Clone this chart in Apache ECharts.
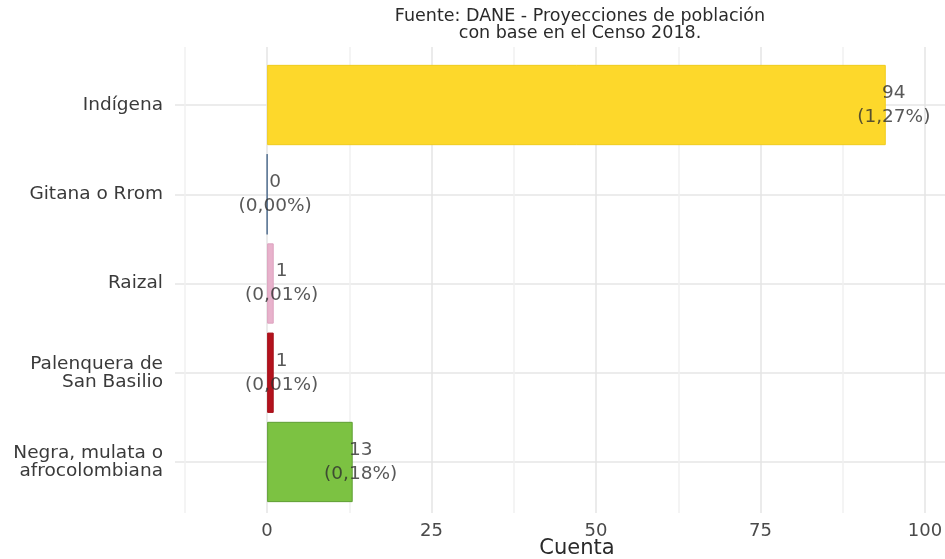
<!DOCTYPE html>
<html>
<head>
<meta charset="utf-8">
<script src="https://cdn.jsdelivr.net/npm/echarts@6/dist/echarts.min.js"></script>
<style>html,body{margin:0;padding:0;background:#fff}#c{width:945px;height:559px}</style>
</head>
<body>
<div id="c"></div>
<script>
const categories = ['Indígena', 'Gitana o Rrom', 'Raizal', 'Palenquera de\nSan Basilio', 'Negra, mulata o\nafrocolombiana'];
const values = [94, 0, 1, 1, 13];
const percents = ['1,27%', '0,00%', '0,01%', '0,01%', '0,18%'];
const barColors = ['#FDD82B', '#4F6D8F', '#E8B2CC', '#B3121D', '#7CC242'];
const barBorders = ['#F0CC1C', '#4F6D8F', '#DCA2BE', '#A50F18', '#5E9E33'];
const xTicks = [0, 25, 50, 75, 100];
const titleText = 'Fuente: DANE - Proyecciones de población\ncon base en el Censo 2018.';
const xTitle = 'Cuenta';

const FONT = 'DejaVu Sans';
const chart = echarts.init(document.getElementById('c'), null, {renderer: 'canvas'});

const option = {
  backgroundColor: '#ffffff',
  animation: false,
  graphic: [{
    type: 'text', x: 580, y: 8,
    style: {text: titleText, font: '17.5px "DejaVu Sans"', fill: '#2a2a2a', textAlign: 'center', textVerticalAlign: 'top', lineHeight: 17}
  }, {
    type: 'text', x: 577, y: 549,
    style: {text: xTitle, font: '21px "DejaVu Sans"', fill: '#2a2a2a', textAlign: 'center', textVerticalAlign: 'middle'}
  }],
  grid: [
    {left: 184.75, right: 20, top: 47, bottom: 46, containLabel: false, outerBoundsMode: 'none'},
    {left: 175, right: 0, top: 60.4, bottom: 52.4, containLabel: false, outerBoundsMode: 'none'}
  ],
  xAxis: [
    {
      type: 'value', gridIndex: 0, min: -12.5, max: 100, interval: 12.5,
      axisLine: {show: false}, axisTick: {show: false},
      axisLabel: {
        margin: 9, fontFamily: FONT, fontSize: 18, color: '#4a4a4a',
        formatter: v => (xTicks.indexOf(v) >= 0 ? String(v) : '')
      },
      splitLine: {show: true, lineStyle: {color: ['#f1f1f1', '#e4e4e4'], width: 1.5}}
    },
    {
      type: 'value', gridIndex: 1, min: -14, max: 103, show: false,
      splitLine: {show: false}
    }
  ],
  yAxis: [
    {type: 'value', gridIndex: 0, show: false, min: 0, max: 1},
    {
      type: 'category', gridIndex: 1, data: categories, inverse: true,
      axisLine: {show: false}, axisTick: {show: false}, splitLine: {show: false},
      axisLabel: {margin: 12, fontFamily: FONT, fontSize: 18.5, lineHeight: 18, color: '#3a3a3a', align: 'right'}
    },
    {
      type: 'value', gridIndex: 1, min: 0, max: 10, interval: 1, inverse: true,
      axisLine: {show: false}, axisTick: {show: false}, axisLabel: {show: false},
      splitLine: {show: true, lineStyle: {color: ['rgba(0,0,0,0)', '#e6e6e6'], width: 1.5}}
    }
  ],
  series: [
    {
      type: 'bar', xAxisIndex: 1, yAxisIndex: 1, barCategoryGap: '10%',
      data: values.map((v, i) => ({
        value: v,
        itemStyle: {color: barColors[i], borderColor: barBorders[i], borderWidth: 1}
      }))
    },
    {
      type: 'scatter', xAxisIndex: 1, yAxisIndex: 1, symbolSize: 1,
      itemStyle: {color: 'rgba(0,0,0,0)'},
      data: values.map((v, i) => [v, categories[i]]),
      label: {
        show: true, position: 'inside', offset: [8, 0],
        fontFamily: FONT, fontSize: 18.5, lineHeight: 24, color: '#2e2e2e', align: 'center',
        formatter: p => values[p.dataIndex] + '\n(' + percents[p.dataIndex] + ')'
      },
      silent: true
    }
  ]
};
chart.setOption(option);
</script>
</body>
</html>
